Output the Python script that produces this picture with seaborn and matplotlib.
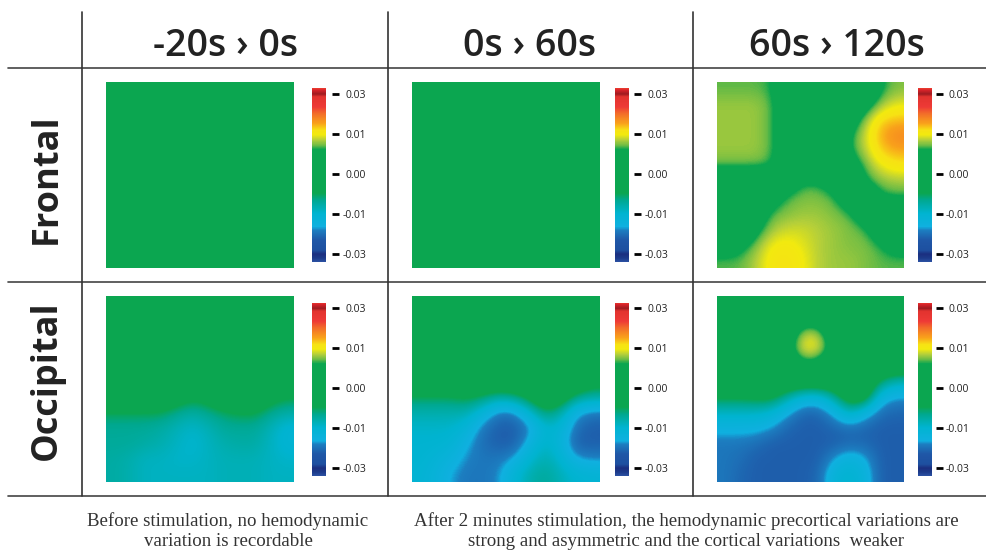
import numpy as np
import matplotlib
matplotlib.use('Agg')
import matplotlib.pyplot as plt
import seaborn as sns
from matplotlib.colors import LinearSegmentedColormap

columns = ['-20s \u203a 0s', '0s \u203a 60s', '60s \u203a 120s']
rows = ['Frontal', 'Occipital']
tick_values = [-30, -10, 0, 10, 30]
tick_labels = ['-0.03', '-0.01', '0.00', '0.01', '0.03']
note_left = ['Before stimulation, no hemodynamic', 'variation is recordable']
note_right = ['After 2 minutes stimulation, the hemodynamic precortical variations are',
              'strong and asymmetric and the cortical variations  weaker']

# values, in units of 0.001
frontal_pre = np.zeros((12, 12))
frontal_early = np.zeros((12, 12))
frontal_late = np.array([
    [7, 7, 7, 6.5, 2, 0, 0, 0, 0, 0, 6, 7.5],
    [8, 8, 8, 7, 3, 0, 0, 0, 0, 4, 8, 9.5],
    [8, 8, 8, 7, 3, 0, 0, 0, 3, 8, 13, 14],
    [8, 8, 8, 7, 3, 0, 0, 0, 6, 9, 15, 18],
    [8, 8, 8, 7, 3, 0, 0, 0, 6, 8.5, 13, 15],
    [7, 7, 7, 6.5, 2, 0, 0, 0, 3, 7, 9.5, 11],
    [0, 0, 0, 0, 3, 6.5, 6.5, 4, 0, 6, 7.5, 8],
    [0, 0, 0, 4, 7, 7.5, 7.5, 7, 3, 0, 6, 6.5],
    [0, 0, 3, 7, 7.5, 8, 8, 7.5, 7, 3, 0, 0],
    [0, 0, 5, 8, 9, 9, 8.5, 8, 7.5, 7, 3, 0],
    [3, 5, 7.5, 10, 10.5, 9.5, 8.5, 8, 7.5, 7.5, 6.5, 4],
    [7, 7, 8.5, 11, 11.5, 10, 8.5, 8, 8, 7.5, 7, 7]])
occipital_pre = np.array([
    [0] * 12, [0] * 12, [0] * 12, [0] * 12, [0] * 12, [0] * 12,
    [0, 0, 0, 0, -2, -4, -3, 0, 0, 0, -3, -4.5],
    [-5, -5, -5, -5, -6.5, -7.5, -6.5, -5.5, -4.5, -4.5, -6.5, -7.5],
    [-7, -7, -7, -7.5, -8.5, -9.5, -8.5, -7, -7, -7, -8.5, -11],
    [-7, -7, -7.5, -8, -9, -10, -9, -8, -7.5, -7.5, -9, -11],
    [-7.5, -8, -9, -9, -9.5, -9.5, -9, -8.5, -8.5, -8.5, -9, -9.5],
    [-7.5, -8, -9, -9, -9, -9, -9, -8.5, -8.5, -8.5, -9, -9]])
occipital_early = np.array([
    [0] * 12, [0] * 12, [0] * 12, [0] * 12, [0] * 12,
    [0, 0, 0, 0, 0, 0, 0, 0, 0, 0, 0, -3],
    [-5, -5, -5, -4, -5, -7, -6, -3, 0, -1, -6, -7],
    [-8, -8, -8, -8, -12, -19, -19, -10, -5, -7.5, -16.5, -19],
    [-9.5, -9.5, -9.5, -12, -19, -22, -22, -19, -10, -11, -20, -22],
    [-10, -10, -11, -16, -20, -22, -22, -15, -9, -13, -22, -22],
    [-10, -12, -14, -18, -19, -19, -17, -10, -8, -10, -17, -18],
    [-11, -13, -17, -19, -19, -18, -11, -8, -7, -8.5, -10, -11]])
occipital_late = np.array([
    [0] * 12,
    [0, 0, 0, 0, 0, 3, 3, 0, 0, 0, 0, 0],
    [0, 0, 0, 0, 2, 9, 9, 2, 0, 0, 0, 0],
    [0, 0, 0, 0, 4, 10, 10, 4, 0, 0, 0, 0],
    [0, 0, 0, 0, 0, 5, 4, 0, 0, 0, 0, 0],
    [0, 0, 0, 0, 0, 0, 0, 0, 0, 0, -5, -8],
    [-4, -4, -3.5, -3, -7, -11, -12, -7, -1, -1, -14, -17],
    [-9, -9, -9, -10, -16, -21, -21, -16, -8, -14, -20, -21],
    [-15, -15, -15, -17, -21, -22, -22, -21, -20, -21, -22, -22],
    [-19, -19, -20, -22, -22, -22, -22, -22, -21, -21, -22, -22],
    [-19, -20, -22, -22, -22, -22, -22, -17, -13, -16, -22, -22],
    [-19, -21, -22, -22, -22, -22, -21, -12, -10, -13, -22, -22]])
maps = [[frontal_pre, frontal_early, frontal_late],
        [occipital_pre, occipital_early, occipital_late]]

# colour bar is evenly spaced per tick, so work in tick position
tick_pos = [-2, -1, 0, 1, 2]
vmin, vmax = -2.19, 2.14
stops = [(-2.19, '#2a4fa0'), (-2.1, '#1c3a8a'), (-2.0, '#1b2f80'), (-1.9, '#1e50a0'),
         (-1.65, '#1f57a7'), (-1.4, '#1c7fc1'), (-1.32, '#10b0e0'), (-0.98, '#00b4d0'),
         (-0.65, '#00a88f'), (-0.48, '#0ba650'), (0.62, '#0ba650'), (0.72, '#6cbc45'),
         (0.85, '#b5cf3a'), (0.98, '#f2ea0f'), (1.1, '#f7e214'), (1.27, '#f9a11b'),
         (1.52, '#f26a2a'), (1.68, '#ee3a36'), (1.93, '#e2332f'), (2.0, '#9e1b20'),
         (2.1, '#d8232a'), (2.14, '#e8392f')]
cmap = LinearSegmentedColormap.from_list(
    'nirs', [((p - vmin) / (vmax - vmin), c) for p, c in stops], N=512)

W, H = 986, 551
sns.set_style('white')
plt.rcParams['font.family'] = ['Open Sans', 'DejaVu Sans']
fig = plt.figure(figsize=(W / 100, H / 100), dpi=100)


def px_axes(x0, y0, x1, y1):
    return fig.add_axes([x0 / W, 1 - y1 / H, (x1 - x0) / W, (y1 - y0) / H])


map_x = [(105.7, 293.3), (411.7, 598.7), (716.7, 903)]
map_y = [(81.7, 268.3), (295.7, 482.3)]
bar_x = [(312.3, 326), (615, 629), (918.3, 932.3)]
bar_y = [(88.3, 261.7), (302.7, 475.7)]
mark_x = [331.7, 634.3, 935.7]
label_right = [366, 668.3, 969.3]

for r in range(2):
    for c in range(3):
        ax = px_axes(map_x[c][0], map_y[r][0], map_x[c][1], map_y[r][1])
        cax = px_axes(bar_x[c][0], bar_y[r][0], bar_x[c][1], bar_y[r][1])
        pos = np.interp(maps[r][c], tick_values, tick_pos)
        sns.heatmap(pos, ax=ax, cmap=cmap, vmin=vmin, vmax=vmax, cbar_ax=cax,
                    xticklabels=False, yticklabels=False)
        # the maps are smooth, so lay the same grid over the cells interpolated
        n = pos.shape[0]
        ax.imshow(pos, cmap=cmap, vmin=vmin, vmax=vmax, aspect='auto', zorder=3,
                  interpolation='bicubic', extent=(0, n, n, 0))
        ax.set_xlim(0, n)
        ax.set_ylim(n, 0)
        cax.set_yticks([])
        cax.tick_params(length=0)

        # the tick marks stand off from the bar
        tax = px_axes(mark_x[c], bar_y[r][0], mark_x[c] + 6.6, bar_y[r][1])
        tax.set_facecolor('none')
        sns.despine(ax=tax, left=True, bottom=True)
        tax.set_xticks([])
        tax.set_ylim(vmin, vmax)
        tax.set_yticks(tick_pos)
        tax.set_yticklabels(tick_labels)
        pad_px = label_right[c] - mark_x[c] - 6.6
        tax.tick_params(axis='y', which='major', left=True, right=False, direction='in', length=4.8,
                        width=2, color='black', labelleft=False, labelright=True,
                        labelsize=7.5, labelcolor='#222222', pad=pad_px * 0.72)
        for t in tax.get_yticklabels():
            t.set_ha('right')

# grid rules and text in picture pixels
top = fig.add_axes([0, 0, 1, 1], zorder=5)
top.set_facecolor('none')
top.set_xlim(0, W)
top.set_ylim(H, 0)
top.axis('off')
for y in [67.5, 281.7, 496]:
    top.plot([8, W], [y, y], color='#444444', lw=1.2)
for x in [82, 388, 693]:
    top.plot([x, x], [12, 496], color='#333333', lw=1.2)

for x, name in zip([226, 530, 837], columns):
    top.text(x, 56.5, name, ha='center', va='baseline', fontsize=27,
             fontweight='semibold', color='#222222')
for y, name in zip([179, 380], rows):
    top.text(56, y, name, rotation=90, ha='center', va='baseline', rotation_mode='anchor',
             fontsize=26, fontweight='bold', color='#222222')

for x, lines in [(228, note_left), (686, note_right)]:
    for y, line in zip([526, 546], lines):
        top.text(x, y, line, ha='center', va='baseline', fontsize=13.6,
                 family='Liberation Serif', color='#333333')

fig.savefig('out.png', dpi=100)
